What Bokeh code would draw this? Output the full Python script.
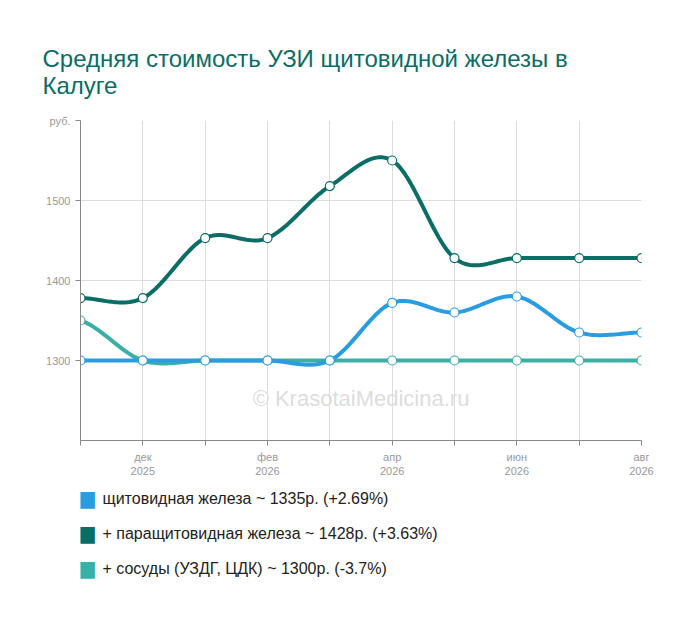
import numpy as np
from bokeh.plotting import figure
from bokeh.layouts import column
from bokeh.models import Label, FixedTicker, Range1d
from bokeh.embed import file_html
from bokeh.resources import INLINE

months = ["ноя", "дек", "янв", "фев", "мар", "апр", "май", "июн", "июл", "авг"]
tick_labels = {1: "дек\n2025", 3: "фев\n2026", 5: "апр\n2026", 7: "июн\n2026", 9: "авг\n2026"}
thyroid = [1300, 1300, 1300, 1300, 1300, 1372, 1360, 1380, 1335, 1335]
para = [1378, 1378, 1453, 1453, 1518, 1550, 1428, 1428, 1428, 1428]
vessels = [1350, 1300, 1300, 1300, 1300, 1300, 1300, 1300, 1300, 1300]
names = ["щитовидная железа ~ 1335р. (+2.69%)",
         "+ паращитовидная железа ~ 1428р. (+3.63%)",
         "+ сосуды (УЗДГ, ЦДК) ~ 1300р. (-3.7%)"]
colors = ["#2a9de0", "#0a6e66", "#3aafa6"]
FONT = "Liberation Sans"

def spline(y, n=24):
    y = np.asarray(y, float)
    xs, ys = [], []
    N = len(y)
    for i in range(N - 1):
        p0 = y[max(i - 1, 0)]; p1 = y[i]; p2 = y[i + 1]; p3 = y[min(i + 2, N - 1)]
        t = np.linspace(0, 1, n, endpoint=(i == N - 2))
        v = 0.5 * ((2 * p1) + (-p0 + p2) * t + (2 * p0 - 5 * p1 + 4 * p2 - p3) * t ** 2
                   + (-p0 + 3 * p1 - 3 * p2 + p3) * t ** 3)
        xs.extend(i + t); ys.extend(v)
    return xs, ys

p = figure(width=684, height=483, output_backend="svg", toolbar_location=None,
           x_range=Range1d(0, 9), y_range=Range1d(1200, 1600),
           min_border_left=80, min_border_right=43, min_border_top=120, min_border_bottom=43)
p.outline_line_color = None
p.title.text = "Средняя стоимость УЗИ щитовидной железы в\nКалуге"
p.title.text_font = FONT
p.title.text_font_size = "24px"
p.title.text_font_style = "normal"
p.title.text_color = "#0a6e66"
p.title.offset = -38
p.title.standoff = 44
p.xaxis.ticker = FixedTicker(ticks=list(range(10)))
p.xaxis.major_label_overrides = {i: tick_labels.get(i, "") for i in range(10)}
p.yaxis.ticker = FixedTicker(ticks=[1300, 1400, 1500, 1600])
p.yaxis.major_label_overrides = {1600: "руб."}
for ax in (p.xaxis, p.yaxis):
    ax.axis_line_color = "#888888"
    ax.major_tick_line_color = "#888888"
    ax.minor_tick_line_color = None
    ax.major_label_text_color = "#999999"
    ax.major_label_text_font = FONT
    ax.major_label_text_font_size = "11px"
p.xaxis.major_tick_in = 0
p.xaxis.major_tick_out = 5
p.yaxis.major_tick_in = 0
p.yaxis.major_tick_out = 5
p.grid.grid_line_color = "#dddddd"

p.add_layout(Label(x=4.5, y=1237, text="© KrasotaiMedicina.ru", text_align="center",
                   text_font=FONT, text_font_size="22px", text_color="#dddddd"))

xi = list(range(10))
for ser, c in [(vessels, colors[2]), (thyroid, colors[0]), (para, colors[1])]:
    sx, sy = spline(ser)
    p.line(sx, sy, line_color=c, line_width=4)
for ser, c in [(vessels, colors[2]), (thyroid, colors[0]), (para, colors[1])]:
    p.scatter(xi, ser, size=9, fill_color="white", line_color=c, line_width=1.2)

lg = figure(width=684, height=117, output_backend="svg", toolbar_location=None,
            x_range=Range1d(80, 641), y_range=Range1d(0, 117),
            min_border_left=80, min_border_right=43, min_border_top=0, min_border_bottom=0,
            x_axis_type=None, y_axis_type=None)
lg.outline_line_color = None
lg.grid.visible = False
ys = [102, 67, 32]
for y, t, c in zip(ys, names, colors):
    lg.add_layout(Label(x=86, y=y, text="■", text_baseline="middle", text_align="center",
                        text_font="DejaVu Sans", text_font_size="22px", text_color=c))
    lg.add_layout(Label(x=102, y=y, text=t, text_baseline="middle", text_font=FONT,
                        text_font_size="16px", text_color="#222222"))

layout = column(p, lg, spacing=0)
open("out.html", "w").write(file_html(layout, INLINE))
